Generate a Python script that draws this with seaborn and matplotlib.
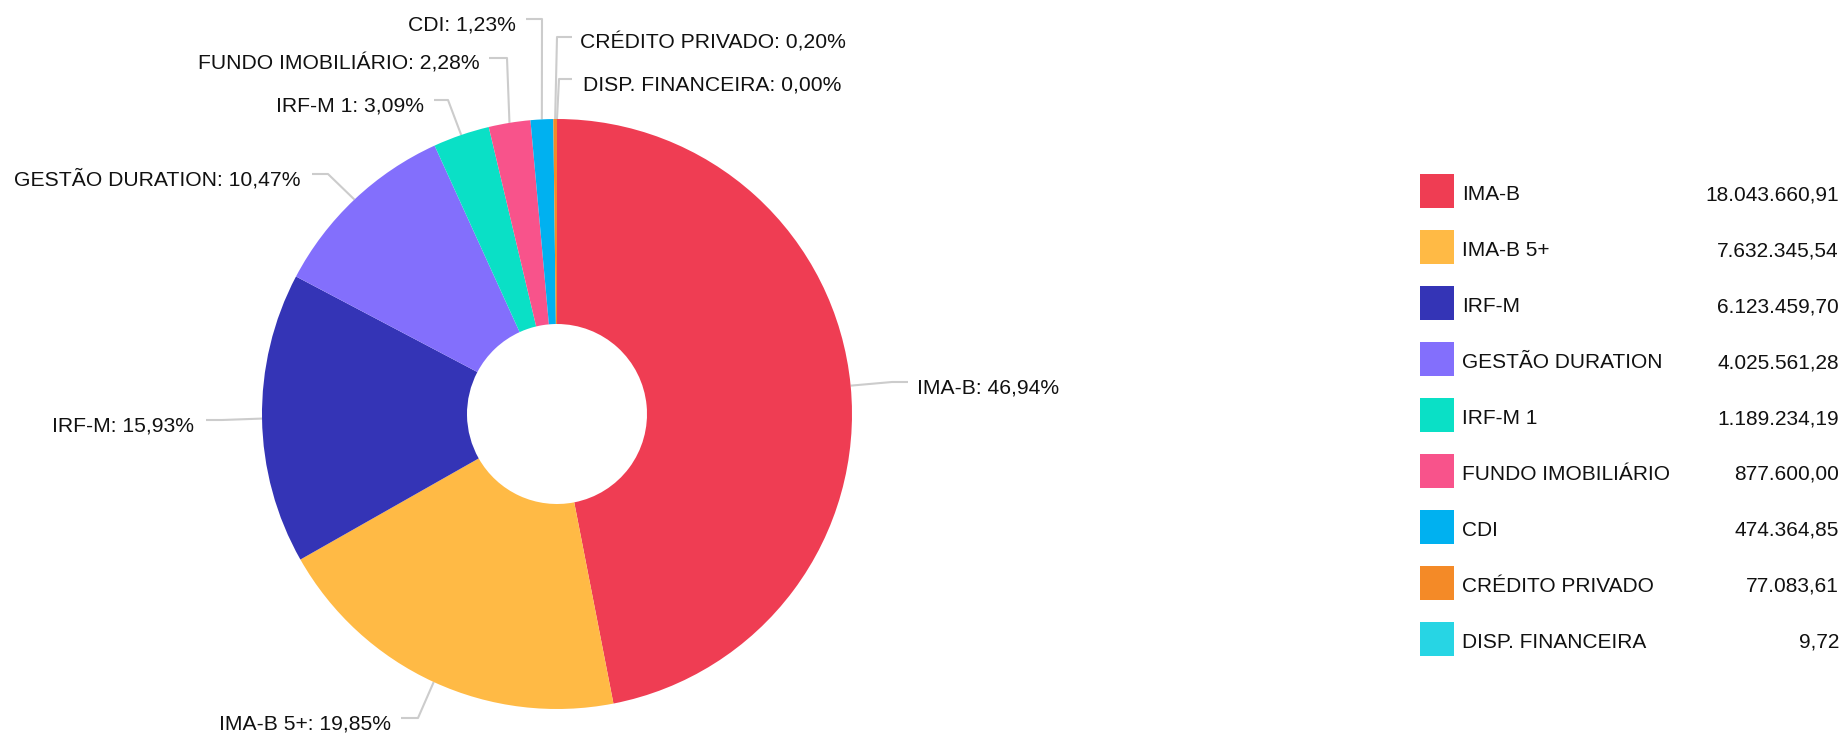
import numpy as np
import pandas as pd
import seaborn as sns
import matplotlib.pyplot as plt

# Data: allocation by index (R$)
categorias = ['IMA-B', 'IMA-B 5+', 'IRF-M', 'GESTÃO DURATION', 'IRF-M 1',
              'FUNDO IMOBILIÁRIO', 'CDI', 'CRÉDITO PRIVADO', 'DISP. FINANCEIRA']
valores = [18043660.91, 7632345.54, 6123459.70, 4025561.28, 1189234.19,
           877600.00, 474364.85, 77083.61, 9.72]
cores = ['#EF3D53', '#FFBA45', '#3434B6', '#836FFC', '#0AE0C6',
         '#F8538B', '#00B1F0', '#F48A27', '#27D5E4']

# Layout of the outside labels (pixels, y measured from the top)
# elbow of the leader line, end of the horizontal stub, text anchor x, alignment
elbow_x = [892, 418, 222, 328, 448, 507, 542, 557, 559]
elbow_y = [382, 718, 420, 174, 100, 58, 19, 37, 79]
stub_x = [908, 401, 206, 312, 434, 489, 526, 572, 572]
text_x = [917, 391, 194, 300, 424, 480, 516, 580, 583]
text_ha = ['left', 'right', 'right', 'right', 'right', 'right', 'right', 'left', 'left']

W, H = 1848, 735
cx, cy, R, r_hole = 557, H - 414, 295, 90

sns.set_theme(style='white')
plt.rcParams['font.family'] = ['Liberation Sans', 'DejaVu Sans']

fig = plt.figure(figsize=(W / 100, H / 100), dpi=100)
ax = fig.add_axes([0, 0, 1, 1])

total = sum(valores)
pct = [v / total * 100 for v in valores]

wedges, _ = ax.pie(valores, colors=cores, startangle=90, counterclock=False,
                   center=(cx, cy), radius=R,
                   wedgeprops=dict(width=R - r_hole, linewidth=0))

line_color = '#CCCCCC'
for i, w in enumerate(wedges):
    mid = np.deg2rad((w.theta1 + w.theta2) / 2)
    ex, ey = cx + R * np.cos(mid), cy + R * np.sin(mid)
    ax.plot([ex, elbow_x[i], stub_x[i]], [ey, H - elbow_y[i], H - elbow_y[i]],
            color=line_color, lw=1.5, solid_capstyle='butt', zorder=0)
    num = f"{pct[i]:.2f}".replace('.', ',')
    ax.text(text_x[i], H - elbow_y[i] - 11.5, f"{categorias[i]}: {num}%",
            ha=text_ha[i], va='baseline', fontsize=15.2, color='#111111')

# Legend on the right: colour square, name, value
leg = pd.DataFrame({'categoria': categorias, 'valor': valores})
leg['linha'] = np.arange(len(leg))
leg['lx'] = 1437
leg['ly'] = H - (191 + leg['linha'] * 56)
sns.scatterplot(data=leg, x='lx', y='ly', hue='categoria', palette=cores,
                marker='s', s=600, linewidth=0, legend=False, ax=ax)
for _, row in leg.iterrows():
    ax.text(1462, row['ly'] - 9, row['categoria'], ha='left', va='baseline',
            fontsize=15, color='#111111')
    txt = f"{row['valor']:,.2f}".replace(',', 'X').replace('.', ',').replace('X', '.')
    ax.text(1839, row['ly'] - 9, txt, ha='right', va='baseline',
            fontsize=15, color='#111111')

ax.set_xlim(0, W)
ax.set_ylim(0, H)
ax.set_aspect('auto')
ax.axis('off')

fig.savefig('out.png', dpi=100, facecolor='white')
